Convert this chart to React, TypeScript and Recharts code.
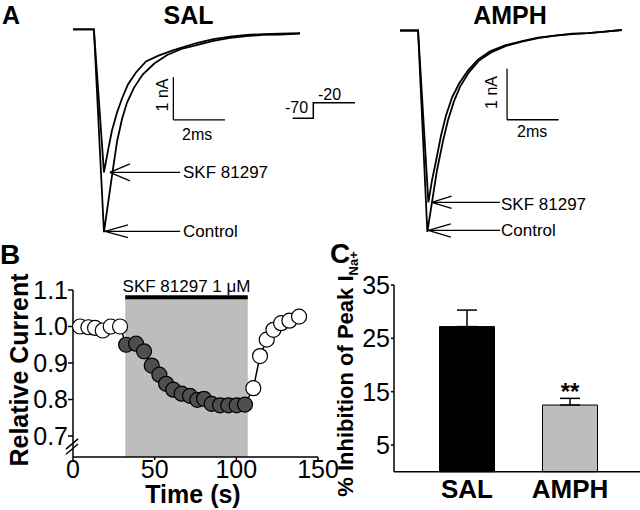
import React from 'react';
import {
  LineChart,
  Line,
  XAxis,
  YAxis,
  ReferenceLine,
  ReferenceArea,
  ComposedChart,
  BarChart,
  Bar,
  Cell,
  ErrorBar,
  LabelList,
} from 'recharts';

const FONT = '"Liberation Sans", Arial, Helvetica, sans-serif';

// Panel A: sodium current traces (time in ms, current in nA)
const salSkfT = [0, 0.81, 1.2, 1.36, 1.51, 1.71, 1.9, 2.13, 2.44, 2.83, 3.29, 3.84, 4.15, 4.79, 5.44, 6.09, 6.73, 7.38, 8.02, 8.8];
const salSkfI = [0, 0, -3.35, -2.83, -2.37, -1.94, -1.62, -1.29, -1.01, -0.75, -0.62, -0.5, -0.44, -0.32, -0.23, -0.17, -0.13, -0.11, -0.1, -0.09];
const salCtlT = [0, 0.81, 1.2, 1.53, 1.71, 1.9, 2.09, 2.36, 2.7, 3.15, 3.65, 4.2, 4.79, 5.44, 6.09, 6.73, 7.38, 8.02, 8.8];
const salCtlI = [0, 0, -4.75, -3.35, -2.62, -2.1, -1.72, -1.37, -1.06, -0.8, -0.6, -0.46, -0.37, -0.27, -0.2, -0.16, -0.13, -0.12, -0.1];

const amphSkfT = [0, 0.7, 1.1, 1.24, 1.4, 1.59, 1.78, 2.02, 2.29, 2.64, 3.02, 3.49, 4.07, 4.73, 5.35, 6.01, 6.67, 7.29, 7.95, 8.6];
const amphSkfI = [0, 0, -3.37, -2.94, -2.55, -2.06, -1.67, -1.31, -1.04, -0.78, -0.57, -0.41, -0.29, -0.21, -0.14, -0.1, -0.06, -0.05, -0.02, 0.01];
const amphCtlT = [0, 0.7, 1.06, 1.28, 1.43, 1.67, 1.86, 2.09, 2.33, 2.67, 3.06, 3.53, 4.11, 4.73, 5.35, 6.01, 6.67, 7.29, 7.95, 8.6];
const amphCtlI = [0, 0, -3.95, -3.24, -2.75, -2.16, -1.76, -1.39, -1.1, -0.82, -0.59, -0.43, -0.3, -0.22, -0.15, -0.1, -0.07, -0.05, -0.02, 0.01];

// Panel B: time course of relative current
const beforeTime = [4.3, 9.4, 13.5, 18.2, 23.1, 28.8];
const beforeValue = [1.0, 0.998, 0.996, 0.989, 1.0, 1.0];
const drugTime = [32.5, 38.6, 43.5, 48.2, 52.9, 57, 61.4, 66.5, 71.6, 76.1, 80.2, 84.9, 90, 95.1, 100.2, 105.3];
const drugValue = [0.95, 0.953, 0.932, 0.893, 0.868, 0.843, 0.827, 0.816, 0.81, 0.799, 0.802, 0.788, 0.784, 0.784, 0.784, 0.786];
const washTime = [110.4, 114.5, 118.6, 122.7, 127.4, 132.5, 138.4];
const washValue = [0.831, 0.919, 0.964, 0.991, 1.009, 1.016, 1.027];
const timeTicks = [0, 50, 100, 150];
const relTicks = [0.7, 0.8, 0.9, 1.0, 1.1];
const drugStart = 32;
const drugEnd = 107;
const drugLabel = 'SKF 81297 1 \u03bcM';

// Panel C: % inhibition of peak INa+
const groups = ['SAL', 'AMPH'];
const inhibition = [27.2, 12.5];
const inhibitionSem = [3.1, 1.25];
const significance = ['', '**'];
const inhibitionTicks = [5, 15, 25, 35];

const toSeries = (t: number[], i: number[]) => t.map((v, k) => ({ t: v, i: i[k] }));

const timeCourse = [
  ...beforeTime.map((t, k) => ({ t, v: beforeValue[k], drug: false })),
  ...drugTime.map((t, k) => ({ t, v: drugValue[k], drug: true })),
  ...washTime.map((t, k) => ({ t, v: washValue[k], drug: false })),
];

const barData = groups.map((g, k) => ({
  group: g,
  value: inhibition[k],
  err: [0, inhibitionSem[k]],
  sig: significance[k],
}));

type Pt = { x: number; y: number };
type Seg = [Pt, Pt];

function arrow(tipX: number, y: number, wingX: number, wingDy: number, endX: number): Seg[] {
  return [
    [{ x: tipX, y }, { x: endX, y }],
    [{ x: tipX, y }, { x: wingX, y: y + wingDy }],
    [{ x: tipX, y }, { x: wingX, y: y - wingDy }],
  ];
}

function TraceChart(props: {
  left: number;
  top: number;
  height: number;
  yDomain: [number, number];
  skf: { t: number; i: number }[];
  ctl: { t: number; i: number }[];
  segments: Seg[];
}) {
  return (
    <div style={{ position: 'absolute', left: props.left, top: props.top }}>
      <LineChart width={232.2} height={props.height} margin={{ top: 0, right: 0, bottom: 0, left: 0 }}>
        <XAxis dataKey="t" type="number" domain={[0, 9]} hide allowDataOverflow />
        <YAxis type="number" domain={props.yDomain} hide allowDataOverflow />
        <Line data={props.ctl} dataKey="i" type="linear" dot={false} stroke="#000" strokeWidth={1.8} isAnimationActive={false} />
        <Line data={props.skf} dataKey="i" type="linear" dot={false} stroke="#000" strokeWidth={1.8} isAnimationActive={false} />
        {props.segments.map((s, k) => (
          <ReferenceLine key={k} segment={s} stroke="#000" strokeWidth={1.3} ifOverflow="visible" />
        ))}
      </LineChart>
    </div>
  );
}

const renderDot = (p: any) => (
  <circle
    key={`dot-${p.index}`}
    cx={p.cx}
    cy={p.cy}
    r={7.5}
    fill={p.payload.drug ? '#4f4f4f' : '#fff'}
    stroke="#000"
    strokeWidth={1.2}
  />
);

export default function App() {
  const salSegs: Seg[] = [
    ...arrow(1.43, -3.35, 2.21, 0.2, 4.15),
    ...arrow(1.24, -4.73, 2.13, 0.15, 4.15),
    [{ x: 3.89, y: -1.12 }, { x: 3.89, y: -2.12 }],
    [{ x: 3.89, y: -2.12 }, { x: 5.89, y: -2.12 }],
  ];
  const amphSegs: Seg[] = [
    ...arrow(1.23, -3.37, 2.0, 0.12, 3.88),
    ...arrow(1.1, -3.92, 1.97, 0.13, 3.88),
    [{ x: 4.15, y: -0.75 }, { x: 4.15, y: -1.75 }],
    [{ x: 4.15, y: -1.75 }, { x: 6.15, y: -1.75 }],
  ];

  return (
    <div
      style={{
        position: 'absolute',
        left: 0,
        top: 0,
        width: 640,
        height: 510,
        background: '#fff',
        fontFamily: FONT,
        overflow: 'hidden',
      }}
    >
      <TraceChart left={73} top={7.65} height={234.85} yDomain={[-5, 0.5]} skf={toSeries(salSkfT, salSkfI)} ctl={toSeries(salCtlT, salCtlI)} segments={salSegs} />
      <TraceChart left={400} top={4.5} height={244.8} yDomain={[-4.3, 0.5]} skf={toSeries(amphSkfT, amphSkfI)} ctl={toSeries(amphCtlT, amphCtlI)} segments={amphSegs} />

      <div style={{ position: 'absolute', left: 0, top: 240 }}>
        <ComposedChart width={345} height={270} data={timeCourse} margin={{ top: 50, right: 27, bottom: 0, left: 0 }}>
          <ReferenceArea x1={drugStart} x2={drugEnd} y1={0.6425} y2={1.08} fill="#bdbdbd" fillOpacity={1} stroke="none" />
          <ReferenceLine
            segment={[{ x: drugStart, y: 1.08 }, { x: drugEnd, y: 1.08 }]}
            stroke="#000"
            strokeWidth={4}
            label={{ value: drugLabel, position: 'top', fill: '#000', fontSize: 17, offset: 5 }}
          />
          <XAxis
            dataKey="t"
            type="number"
            domain={[0, 150]}
            ticks={timeTicks}
            height={53}
            stroke="#000"
            strokeWidth={1.5}
            tickSize={3}
            tickMargin={0}
            tick={{ fill: '#000', fontSize: 25 }}
          />
          <YAxis
            type="number"
            domain={[0.6425, 1.1]}
            ticks={relTicks}
            width={73}
            stroke="#000"
            strokeWidth={1.5}
            tickSize={5}
            tickMargin={0}
            tickFormatter={(v: number) => v.toFixed(1)}
            tick={{ fill: '#000', fontSize: 25 }}
            allowDataOverflow
          />
          <ReferenceLine segment={[{ x: 0, y: 0.672 }, { x: 0, y: 0.652 }]} stroke="#fff" strokeWidth={3} ifOverflow="visible" />
          <ReferenceLine segment={[{ x: -4.3, y: 0.664 }, { x: 3.1, y: 0.692 }]} stroke="#000" strokeWidth={1.5} ifOverflow="visible" />
          <ReferenceLine segment={[{ x: -4.3, y: 0.65 }, { x: 3.1, y: 0.678 }]} stroke="#000" strokeWidth={1.5} ifOverflow="visible" />
          <Line dataKey="v" type="linear" stroke="#000" strokeWidth={1.5} dot={renderDot} activeDot={false} isAnimationActive={false} />
        </ComposedChart>
      </div>

      <div style={{ position: 'absolute', left: 330, top: 240 }}>
        <BarChart width={310} height={270} data={barData} margin={{ top: 45, right: 0, bottom: 0, left: 0 }}>
          <XAxis
            dataKey="group"
            height={38.3}
            padding={{ left: 21.5, right: 18.5 }}
            stroke="#000"
            strokeWidth={1.5}
            tickLine={false}
            tickSize={0}
            tickMargin={8}
            tick={{ fill: '#000', fontSize: 26, fontWeight: 'bold' }}
          />
          <YAxis
            type="number"
            domain={[0, 35]}
            ticks={inhibitionTicks}
            width={64}
            stroke="#000"
            strokeWidth={1.5}
            tickSize={3}
            tickMargin={1}
            tick={{ fill: '#000', fontSize: 25 }}
          />
          <Bar dataKey="value" barSize={55} stroke="#000" strokeWidth={1} isAnimationActive={false}>
            {barData.map((d, k) => (
              <Cell key={d.group} fill={k === 0 ? '#000' : '#bdbdbd'} />
            ))}
            <ErrorBar dataKey="err" direction="y" width={10} stroke="#000" strokeWidth={1.5} />
            <LabelList dataKey="sig" position="top" offset={5} fill="#000" fontSize={24} fontWeight="bold" />
          </Bar>
        </BarChart>
      </div>

      <svg width={640} height={510} style={{ position: 'absolute', left: 0, top: 0, pointerEvents: 'none' }} fontFamily={FONT}>
        <text x={2} y={24} fontSize={25} fontWeight="bold">A</text>
        <text x={188.5} y={24} fontSize={25} fontWeight="bold" textAnchor="middle">SAL</text>
        <text x={510} y={24} fontSize={25} fontWeight="bold" textAnchor="middle">AMPH</text>

        <text transform="translate(168,95) rotate(-90)" fontSize={16} textAnchor="middle">1 nA</text>
        <text x={182} y={140} fontSize={16}>2ms</text>
        <text x={183} y={178} fontSize={17}>SKF 81297</text>
        <text x={183} y={237} fontSize={17}>Control</text>

        <text transform="translate(497,92.5) rotate(-90)" fontSize={16} textAnchor="middle">1 nA</text>
        <text x={517} y={137} fontSize={16}>2ms</text>
        <text x={501} y={210} fontSize={17}>SKF 81297</text>
        <text x={501} y={236} fontSize={17}>Control</text>

        <text x={285} y={113} fontSize={16}>-70</text>
        <text x={318} y={100} fontSize={16}>-20</text>
        <polyline points="292.7,118.3 313.3,118.3 313.3,102.7 355,102.7" fill="none" stroke="#000" strokeWidth={1.5} />

        <text x={0} y={264} fontSize={28} fontWeight="bold">B</text>
        <text transform="translate(28,370) rotate(-90)" fontSize={25} fontWeight="bold" textAnchor="middle">Relative Current</text>
        <text x={193} y={503} fontSize={25} fontWeight="bold" textAnchor="middle">Time (s)</text>

        <text x={330} y={263} fontSize={28} fontWeight="bold">C</text>
        <text transform="translate(353,374) rotate(-90)" fontSize={22} fontWeight="bold" textAnchor="middle">
          % Inhibition of Peak I<tspan fontSize={13} dy={5}>Na+</tspan>
        </text>
      </svg>
    </div>
  );
}
